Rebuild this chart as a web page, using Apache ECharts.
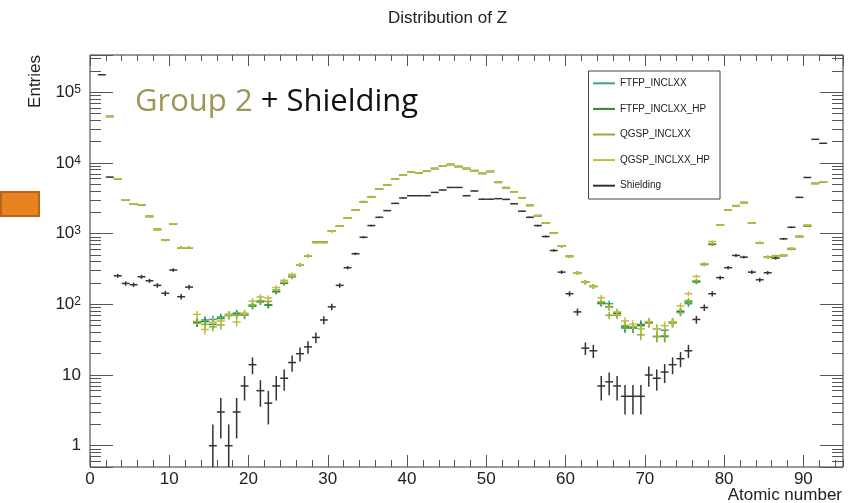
<!DOCTYPE html>
<html>
<head>
<meta charset="utf-8">
<script src="https://cdn.jsdelivr.net/npm/echarts@6/dist/echarts.min.js"></script>
<style>
  html, body { margin: 0; padding: 0; background: #fff; }
  #chart { width: 859px; height: 503px; }
</style>
</head>
<body>
<div id="chart"></div>
<script>
// bin contents per atomic number Z (index = Z), null = empty bin
const seriesNames = ['FTFP_INCLXX', 'FTFP_INCLXX_HP', 'QGSP_INCLXX', 'QGSP_INCLXX_HP', 'Shielding']
const seriesColors = ['#3aa384', '#2b8a2f', '#8cb23a', '#c2bb3e', '#333333']

const ftfpIncl = [
	null, null, 45300, 5950, 3006, 2637, 2553, 1746, 1143, 809,
	1376, 630, 630, 55, 60, 61, 66, 72, 75, 70,
	94, 108, 97, 150, 198, 245, 362, 485, 754, 754,
	1079, 1282, 1663, 2155, 2823, 3320, 4260, 4845, 5890, 6700,
	7460, 7150, 7710, 8310, 9080, 9480, 8870, 8310, 7760, 7080,
	7550, 5300, 4460, 3850, 3160, 2500, 1794, 1405, 1015, 662,
	476, 279, 206, 179, 102, 102, 76, 46, 46, 52,
	56, 45, 43, 56, 80, 102, 206, 370, 700, 1325,
	2155, 2480, 2760, 1399, 740, 464, 479, 490, 608, 908,
	1270, 5110, 5400, null, null
]
const ftfpInclHp = [
	null, null, 45300, 5950, 3006, 2637, 2553, 1746, 1143, 809,
	1376, 630, 630, 55, 57, 52, 63, 70, 73, 72,
	96, 110, 98, 152, 200, 248, 362, 485, 754, 754,
	1079, 1282, 1663, 2155, 2823, 3320, 4260, 4845, 5890, 6700,
	7460, 7150, 7710, 8310, 9080, 9480, 8870, 8310, 7760, 7080,
	7550, 5300, 4460, 3850, 3160, 2500, 1794, 1405, 1015, 662,
	476, 279, 206, 179, 105, 92, 74, 48, 47, 50,
	55, 35, 35, 55, 78, 108, 210, 365, 705, 1325,
	2155, 2480, 2735, 1399, 740, 464, 479, 490, 608, 908,
	1297, 5110, 5400, null, null
]
const qgspIncl = [
	null, null, 45300, 5950, 3006, 2637, 2553, 1746, 1143, 809,
	1376, 630, 630, 57, 52, 48, 51, 69, 70, 72,
	98, 112, 110, 160, 205, 250, 362, 485, 754, 754,
	1079, 1282, 1663, 2155, 2823, 3320, 4260, 4845, 5890, 6700,
	7460, 7150, 7710, 8310, 9080, 9480, 8870, 8310, 7760, 7080,
	7550, 5300, 4460, 3850, 3160, 2500, 1794, 1405, 1015, 662,
	476, 279, 206, 179, 108, 70, 70, 50, 48, 37,
	54, 35, 36, 54, 76, 112, 215, 372, 720, 1325,
	2155, 2480, 2735, 1399, 740, 464, 479, 490, 608, 908,
	1297, 5110, 5400, null, null
]
const qgspInclHp = [
	null, null, 45300, 5950, 3006, 2637, 2553, 1746, 1143, 809,
	1376, 630, 630, 72, 44, 56, 58, 72, 56, 75,
	111, 127, 123, 172, 218, 265, 362, 485, 740, 740,
	1079, 1282, 1663, 2155, 2823, 3320, 4260, 4845, 5890, 6700,
	7460, 7150, 7710, 8310, 9080, 9480, 8870, 8310, 7760, 7080,
	7550, 5300, 4460, 3850, 3160, 2500, 1794, 1405, 1015, 662,
	476, 279, 206, 179, 124, 90, 78, 58, 52, 45,
	57, 45, 50, 56, 95, 141, 248, 375, 771, 1325,
	2155, 2480, 2735, 1399, 740, 464, 479, 490, 620, 908,
	1320, 5110, 5400, null, null
]
const shielding = [
	null, 176000, 6290, 253, 197, 189, 245, 215, 185, 143,
	305, 128, 175, null, null, 1, 3, 1, 3, 7,
	14, 6, 4, 7, 9, 15, 20, 25, 34, 60,
	92, 185, 329, 518, 887, 1297, 1698, 2110, 2672, 3185,
	3430, 3430, 3430, 3820, 4125, 4490, 4490, 3430, 4000, 3060,
	3060, 3120, 3040, 2640, 2070, 1698, 1297, 908, 576, 285,
	141, 78, 24, 22, 7, 8, 7, 5, 5, 5,
	10, 9, 11, 14, 17, 22, 61, 90, 141, 238,
	329, 490, 464, 285, 222, 279, 450, 842, 1227, 3250,
	6210, 21500, 18900, null, null
]

const xMin = 0
const xMax = 95
const yMin = 0.5
const yMax = 335000

const allValues = [ftfpIncl, ftfpInclHp, qgspIncl, qgspInclHp, shielding]

function toPoints(arr) {
	const pts = []
	arr.forEach((v, z) => {
		if (v !== null) pts.push([z, v])
	})
	return pts
}

// ROOT style "E" drawing: horizontal bar over the bin, vertical sqrt(N) error
function renderBin(params, api) {
	const z = api.value(0)
	const v = api.value(1)
	const err = Math.sqrt(v)
	const l = api.coord([z, v])
	const r = api.coord([z + 1, v])
	const t = api.coord([z + 0.5, v + err])
	const b = api.coord([z + 0.5, Math.max(v - err, 0.05)])
	const style = { stroke: api.visual('color'), lineWidth: 1.5 }
	return {
		type: 'group',
		children: [
			{ type: 'line', shape: { x1: l[0], y1: l[1], x2: r[0], y2: r[1] }, style: style },
			{ type: 'line', shape: { x1: t[0], y1: t[1], x2: b[0], y2: b[1] }, style: style }
		]
	}
}

function powLabel(value) {
	const n = Math.round(Math.log10(value))
	if (Math.abs(Math.log10(value) - n) > 1e-6) return ''
	if (n === 0) return '1'
	if (n === 1) return '10'
	return '10{e|' + n + '}'
}

const font = 'Liberation Sans'

const xAxisBase = {
	type: 'value', min: xMin, max: xMax,
	axisLine: { show: false, onZero: false },
	splitLine: { show: false },
	axisLabel: { show: false }
}

const yAxisBase = {
	type: 'log', min: yMin, max: yMax, logBase: 10,
	axisLine: { show: false, onZero: false },
	splitLine: { show: false },
	axisTick: { inside: true, length: 23, lineStyle: { color: '#555' } },
	minorTick: { show: true, splitNumber: 9, length: 11, lineStyle: { color: '#555' } }
}

const option = {
	animation: false,
	backgroundColor: '#fff',
	textStyle: { fontFamily: font },
	title: {
		text: 'Distribution of Z',
		left: 388, top: 10, padding: 0,
		textStyle: { fontSize: 17, fontWeight: 'normal', color: '#222', fontFamily: font }
	},
	grid: {
		left: 90, right: 16, top: 55, bottom: 36,
		show: true, borderColor: '#333', borderWidth: 1, backgroundColor: 'transparent'
	},
	legend: {
		orient: 'vertical',
		left: 593, top: 70.5, padding: 0,
		itemWidth: 22, itemHeight: 2, itemGap: 0,
		selectedMode: false,
		icon: 'rect',
		z: 5,
		textStyle: { fontSize: 10, lineHeight: 25.6, color: '#222', fontFamily: font },
		data: seriesNames
	},
	xAxis: [
		Object.assign({}, xAxisBase, {
			position: 'bottom', interval: 10,
			axisTick: { inside: true, length: 12, lineStyle: { color: '#555' } },
			axisLabel: { show: true, fontSize: 17, color: '#222', margin: 4, showMaxLabel: false }
		}),
		Object.assign({}, xAxisBase, {
			position: 'bottom', interval: 2,
			axisTick: { inside: true, length: 7, lineStyle: { color: '#555' } }
		}),
		Object.assign({}, xAxisBase, {
			position: 'top', interval: 10,
			axisTick: { inside: true, length: 11, lineStyle: { color: '#555' } }
		}),
		Object.assign({}, xAxisBase, {
			position: 'top', interval: 2,
			axisTick: { inside: true, length: 6, lineStyle: { color: '#555' } }
		})
	],
	yAxis: [
		Object.assign({}, yAxisBase, {
			position: 'left',
			axisLabel: {
				show: true, formatter: powLabel, margin: 9,
				fontSize: 17, color: '#222',
				showMinLabel: false, showMaxLabel: false,
				rich: { e: { fontSize: 12, verticalAlign: 'top', color: '#222' } }
			}
		}),
		Object.assign({}, yAxisBase, {
			position: 'right',
			axisLabel: { show: false }
		})
	],
	graphic: [
		{
			type: 'rect', z: 3,
			shape: { x: 588.5, y: 71, width: 131.5, height: 128 },
			style: { fill: '#fff', stroke: '#444', lineWidth: 1 }
		},
		{
			type: 'text', z: 10,
			x: 135, y: 102,
			style: {
				text: '{g|Group 2 }{s|+ Shielding}',
				verticalAlign: 'middle',
				rich: {
					g: { fontSize: 31, fontFamily: 'Open Sans', fill: '#9e9657' },
					s: { fontSize: 31, fontFamily: 'Open Sans', fill: '#111' }
				}
			}
		},
		{
			type: 'text', z: 10,
			x: 35, y: 55, rotation: Math.PI / 2,
			style: { text: 'Entries', fontSize: 17, fontFamily: font, fill: '#222', align: 'right', verticalAlign: 'middle' }
		},
		{
			type: 'text', z: 10,
			x: 842, y: 495,
			style: { text: 'Atomic number', fontSize: 17, fontFamily: font, fill: '#222', align: 'right', verticalAlign: 'middle' }
		},
		{
			type: 'rect', z: 10,
			shape: { x: 1, y: 192, width: 38, height: 24 },
			style: { fill: '#e8821f', stroke: '#b5661c', lineWidth: 2 }
		}
	],
	series: seriesNames.map((name, i) => ({
		type: 'custom',
		name: name,
		xAxisIndex: 0,
		yAxisIndex: 0,
		clip: true,
		itemStyle: { color: seriesColors[i] },
		encode: { x: 0, y: 1 },
		renderItem: renderBin,
		data: toPoints(allValues[i])
	}))
}

const chart = echarts.init(document.getElementById('chart'))
chart.setOption(option)
</script>
</body>
</html>
